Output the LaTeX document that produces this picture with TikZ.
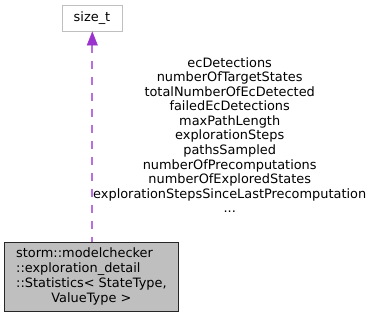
\documentclass[tikz,border=0pt]{standalone}
\usepackage{fontspec}
\setmainfont{DejaVu Sans}
\usetikzlibrary{arrows.meta}
\definecolor{orchidedge}{RGB}{154,50,205}
\definecolor{boxgrey}{RGB}{191,191,191}
\definecolor{lightframe}{RGB}{191,191,191}
\tikzset{
  x=1pt, y=1pt,
  every node/.style={font=\fontsize{12.9}{14.55}\selectfont, inner sep=0pt},
  classbox/.style={draw=lightframe, fill=white, line width=0.9pt,
    minimum width=60pt, minimum height=26pt},
  mainbox/.style={draw=black!85, fill=boxgrey, line width=0.9pt,
    minimum width=173.8pt, minimum height=68.7pt},
  usage/.style={draw=orchidedge!70, line width=2pt,
    dash pattern=on 7.5pt off 8.5pt, dash phase=3pt,
    -{Triangle[length=14pt,width=11pt,color=orchidedge,fill=orchidedge,line width=0.5pt]}},
  memberlist/.style={align=center}
}
\begin{document}
\begin{tikzpicture}
\useasboundingbox (0,0) rectangle (373,317);
% template argument type
\node[classbox] (sizet) at (92,299) {size\_t};
% the statistics class
\node[mainbox] (stats) at (91.4,40.4) {\fontsize{12.9}{15}\selectfont
  \begin{tabular}{@{}l@{}}
  storm::modelchecker\\
  ::exploration\_detail\\
  ::Statistics< StateType,\\
  \multicolumn{1}{@{}c@{}}{ValueType >}
  \end{tabular}};
% usage edge with its member labels
\draw[usage] (stats.north -| 92.3,0) -- (sizet.south -| 92.3,0);
\node[memberlist] (members) at (229.7,182) {ecDetections\\
numberOfTargetStates\\
totalNumberOfEcDetected\\
failedEcDetections\\
maxPathLength\\
explorationSteps\\
pathsSampled\\
numberOfPrecomputations\\
numberOfExploredStates\\
explorationStepsSinceLastPrecomputation\\
...};
\end{tikzpicture}
\end{document}
